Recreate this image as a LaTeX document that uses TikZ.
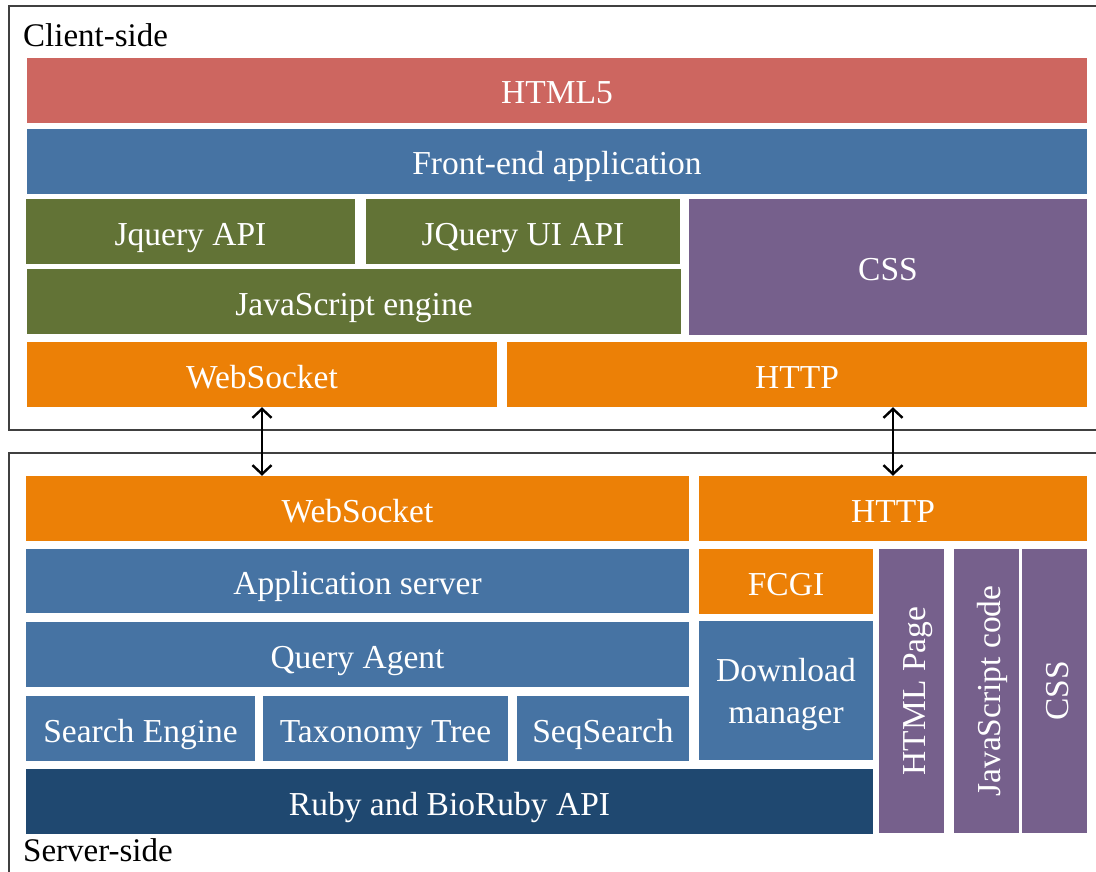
\documentclass[tikz,border=0pt]{standalone}
\usepackage{fontspec}
\setmainfont{Liberation Serif}
\usetikzlibrary{arrows.meta}
\definecolor{cred}{RGB}{205,102,96}
\definecolor{cblue}{RGB}{70,115,163}
\definecolor{cgreen}{RGB}{98,115,54}
\definecolor{cpurp}{RGB}{118,96,140}
\definecolor{corange}{RGB}{236,128,6}
\definecolor{cdark}{RGB}{31,72,112}
\definecolor{cframe}{RGB}{64,64,64}
\tikzset{
  blk/.style={inner sep=0pt, text=white, font=\fontsize{33.5}{40}\selectfont, text height=27pt, text depth=0pt},
  frame/.style={draw=cframe, line width=1.5pt},
  tip/.tip={Straight Barb[length=9pt,width=19pt,line width=2.4pt]},
  link/.style={line width=2pt, tip-tip},
  lbl/.style={inner sep=0pt, anchor=base west, font=\fontsize{33}{40}\selectfont}
}
\newcommand\blk[7]{%
  \node[blk, fill=#6, minimum width={(#4-#2)*1pt}, minimum height={(#5-#3)*1pt}] (#1) at ({(#2+#4)/2},{(#3+#5)/2}) {#7};}
\newcommand\vblk[7]{%
  \node[blk, fill=#6, rotate=90, minimum width={(#5-#3)*1pt}, minimum height={(#4-#2)*1pt}] (#1) at ({(#2+#4)/2},{(#3+#5)/2}) {#7};}
\begin{document}
\begin{tikzpicture}[x=1pt,y=-1pt]
\useasboundingbox (0,0) rectangle (1096,872);
\fill[white] (0,0) rectangle (1096,872);
% frames
\draw[frame] (9,6) rectangle (1110,430);
\draw[frame] (9,453) rectangle (1110,890);
\node[lbl] (client) at (23,47) {Client-side};
\node[lbl] (server) at (23,861) {Server-side};
% client side
\blk{html}{27}{58}{1087}{123}{cred}{HTML5}
\blk{front}{27}{129}{1087}{194}{cblue}{Front-end application}
\blk{jq}{26}{199}{355}{264}{cgreen}{Jquery API}
\blk{jqui}{366}{199}{680}{264}{cgreen}{JQuery UI API}
\blk{jse}{27}{269}{681}{334}{cgreen}{JavaScript engine}
\blk{cssc}{689}{199}{1087}{335}{cpurp}{CSS}
\blk{wsc}{27}{342}{497}{407}{corange}{WebSocket}
\blk{httpc}{507}{342}{1087}{407}{corange}{HTTP}
% server side
\blk{wss}{26}{476}{689}{541}{corange}{WebSocket}
\blk{https}{699}{476}{1087}{541}{corange}{HTTP}
\blk{app}{26}{549}{689}{613}{cblue}{Application server}
\blk{fcgi}{699}{549}{873}{614}{corange}{FCGI}
\blk{dl}{699}{621}{873}{760}{cblue}{}
\node[blk, align=center, text height=, text depth=] (dltext) at ([yshift=-4pt]dl.center) {Download\\[2pt]manager};
\blk{qa}{26}{622}{689}{687}{cblue}{Query Agent}
\blk{se}{26}{696}{255}{761}{cblue}{Search Engine}
\blk{tax}{263}{696}{508}{761}{cblue}{Taxonomy Tree}
\blk{seq}{517}{696}{689}{761}{cblue}{SeqSearch}
\blk{ruby}{26}{769}{873}{834}{cdark}{Ruby and BioRuby API}
\vblk{hp}{879}{549}{944}{833}{cpurp}{HTML Page}
\vblk{jsc}{954}{549}{1019}{833}{cpurp}{JavaScript code}
\vblk{csss}{1022}{549}{1087}{833}{cpurp}{CSS}
% connectors
\draw[link] (wsc.south) -- (wsc.south |- wss.north);
\draw[link] (https.north |- httpc.south) -- (https.north);
\end{tikzpicture}
\end{document}
